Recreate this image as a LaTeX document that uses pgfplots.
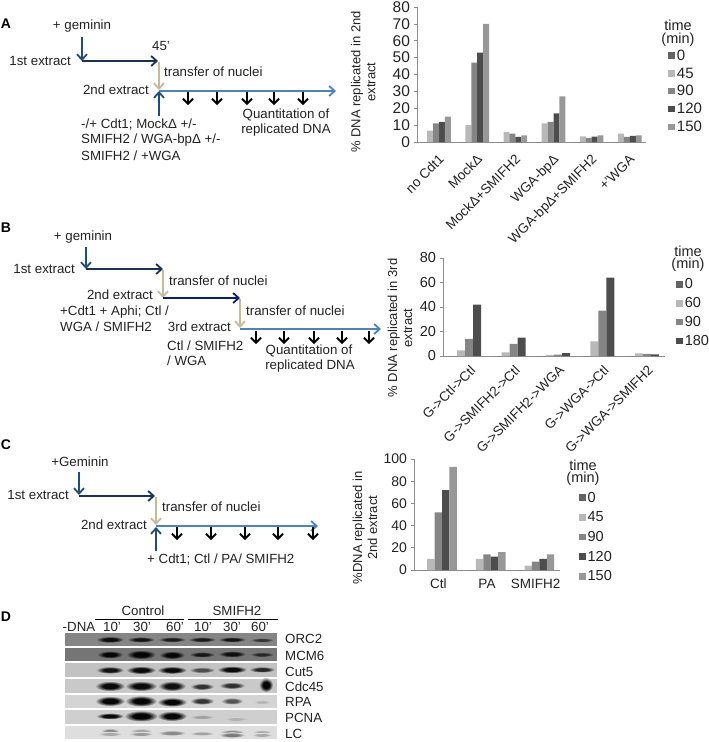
\documentclass[border=0pt]{standalone}
\usepackage{fontspec}
\setmainfont{Liberation Sans}
\usepackage{pgfplots}
\usepackage{pgfplotstable}
\pgfplotsset{compat=1.18}
\usetikzlibrary{arrows.meta}

\definecolor{txt}{HTML}{222222}
\definecolor{axgray}{HTML}{8C8C8C}
\definecolor{cA}{HTML}{636363}
\definecolor{cB}{HTML}{B8B8B8}
\definecolor{cC}{HTML}{858585}
\definecolor{cD}{HTML}{4D4D4D}
\definecolor{cE}{HTML}{989898}
\definecolor{blueD}{HTML}{1F4E7D}
\definecolor{darkN}{HTML}{1B3352}
\definecolor{navy}{HTML}{0B1A7A}
\definecolor{tan}{HTML}{C6BA98}
\definecolor{lblue}{HTML}{4F81BD}

% panel A
\pgfplotstableread{
idx t0 t45 t90 t120 t150
0 0 6.8 11 12 15
1 0 10 47 53 70
2 0 6 5 3 4
3 0 11 12 17 27
4 0 3.3 2.5 3.2 4
5 0 5 3 3.6 4
}\tabA
% panel B
\pgfplotstableread{
idx t0 t60 t90 t180
0 0 4.5 14 42
1 0 3 10 15
2 0 1 1.2 2.3
3 0 12 37 64
4 0 2.2 1.8 1.3
}\tabB
% panel C
\pgfplotstableread{
idx t0 t45 t90 t120 t150
0 0 10 52 72 93
1 0 10 14 12 16
2 0 4 7.5 10 14
}\tabC

\pgfplotsset{
  panel/.style={
    scale only axis, ybar=0pt, ymin=0, axis lines*=left,
    /pgf/number format/assume math mode=true,
    axis line style={axgray,line width=0.7pt},
    tick style={axgray,line width=0.7pt},
    major tick length=3.5pt, minor tick length=3.5pt,
    tick align=outside,
    xtick style={draw=none},
    minor tick style={draw=axgray,line width=0.7pt},
    every tick label/.append style={text=txt},
    ylabel style={text=txt,align=center,anchor=center,font=\fontsize{13}{15}\selectfont},
    legend cell align=left,
    legend image code/.code={\fill[##1] (0pt,-3pt) rectangle (6.5pt,3.5pt);},
  },
  bar0/.style={fill=cA,draw=none},
  bar1/.style={fill=cB,draw=none},
  bar2/.style={fill=cC,draw=none},
  bar3/.style={fill=cD,draw=none},
  bar4/.style={fill=cE,draw=none},
}

\pgfdeclareradialshading[bandin,bandout]{band}{\pgfpoint{0bp}{0bp}}{%
  color(0bp)=(bandin); color(12bp)=(bandin); color(25bp)=(bandout); color(50bp)=(bandout)}
% band: centre x, centre y, half width, half height, percent of black
\newcommand{\band}[5]{\colorlet{bandin}{black!#5!stripbg}\colorlet{bandout}{stripbg}%
  \shade[shading=band] (#1,#2) ellipse (#3 and #4);}
\newcommand{\strip}[3]{\definecolor{stripbg}{gray}{#3}\fill[stripbg] (65,#1) rectangle (277,#2);}

\begin{document}
\begin{tikzpicture}
\useasboundingbox (0pt,0pt) rectangle (709pt,-742pt);

% ---------- charts ----------
\begin{axis}[panel, at={(417pt,-142pt)}, anchor=south west, width=229pt, height=135pt,
  bar width=5.9pt, ymax=80, ytick={0,10,...,80},
  xmin=-0.5, xmax=5.5, xtick={0,...,5},
  xticklabels={no Cdt1,MockΔ,MockΔ+SMIFH2,WGA-bpΔ,WGA-bpΔ+SMIFH2,+'WGA},
  minor xtick={-0.5,0.5,...,5.5},
  xticklabel style={rotate=45,anchor=north east,font=\fontsize{13.5}{15}\selectfont,xshift=-1pt,yshift=-3.5pt},
  yticklabel style={font=\fontsize{15.5}{17}\selectfont},
  ylabel={\% DNA replicated in 2nd\\extract},
  ylabel style={at={(axis description cs:-0.235,0.444)}},
  legend style={at={(axis description cs:1.097,0.70)},anchor=north west,draw=none,fill=none,
    font=\fontsize{15}{17}\selectfont,row sep=2pt,inner sep=0pt,text=txt},
]
\addplot[bar0] table[x=idx,y=t0] {\tabA};
\addplot[bar1] table[x=idx,y=t45] {\tabA};
\addplot[bar2] table[x=idx,y=t90] {\tabA};
\addplot[bar3] table[x=idx,y=t120] {\tabA};
\addplot[bar4] table[x=idx,y=t150] {\tabA};
\legend{0,45,90,120,150}
\end{axis}

\begin{axis}[panel, at={(443pt,-356pt)}, anchor=south west, width=222pt, height=98pt,
  bar width=8pt, ymax=80, ytick={0,20,...,80},
  xmin=-0.5, xmax=4.5, xtick={0,...,4},
  xticklabels={G->Ctl->Ctl,G->SMIFH2->Ctl,G->SMIFH2->WGA,G->WGA->Ctl,G->WGA->SMIFH2},
  minor xtick={-0.5,0.5,...,4.5},
  xticklabel style={rotate=45,anchor=north east,font=\fontsize{13.5}{15}\selectfont,xshift=3pt,yshift=-3pt},
  yticklabel style={font=\fontsize{14.5}{17}\selectfont},
  ylabel={\% DNA replicated in 3rd\\extract},
  ylabel style={at={(axis description cs:-0.194,0.286)}},
  legend style={at={(axis description cs:1.05,0.81)},anchor=north west,draw=none,fill=none,
    font=\fontsize{14.5}{17}\selectfont,row sep=3.3pt,inner sep=0pt,text=txt},
]
\addplot[bar0] table[x=idx,y=t0] {\tabB};
\addplot[bar1] table[x=idx,y=t60] {\tabB};
\addplot[bar2] table[x=idx,y=t90] {\tabB};
\addplot[bar3] table[x=idx,y=t180] {\tabB};
\legend{0,60,90,180}
\end{axis}

\begin{axis}[panel, at={(414pt,-570pt)}, anchor=south west, width=146pt, height=111pt,
  bar width=7.4pt, ymax=100, ytick={0,20,...,100},
  xmin=-0.5, xmax=2.5, xtick={0,1,2},
  xticklabels={Ctl,PA,SMIFH2},
  minor xtick={-0.5,0.5,...,2.5},
  xticklabel style={font=\fontsize{13.5}{15}\selectfont,yshift=-2pt},
  yticklabel style={font=\fontsize{14}{17}\selectfont},
  ylabel={\%DNA replicated in\\2nd extract},
  ylabel style={at={(axis description cs:-0.336,0.38)}},
  legend style={at={(axis description cs:1.13,0.722)},anchor=north west,draw=none,fill=none,
    font=\fontsize{14.5}{17}\selectfont,row sep=4.1pt,inner sep=0pt,text=txt},
]
\addplot[bar0] table[x=idx,y=t0] {\tabC};
\addplot[bar1] table[x=idx,y=t45] {\tabC};
\addplot[bar2] table[x=idx,y=t90] {\tabC};
\addplot[bar3] table[x=idx,y=t120] {\tabC};
\addplot[bar4] table[x=idx,y=t150] {\tabC};
\legend{0,45,90,120,150}
\end{axis}

% ---------- schemes and blot, in picture pixels ----------
\begin{scope}[x=1pt,y=-1pt,
  every node/.style={text=txt,inner sep=0pt,font=\fontsize{13.3}{15}\selectfont},
  ar/.style={-{Straight Barb[length=5.5pt,width=10pt]},line width=1.8pt},
  bk/.style={-{Straight Barb[length=5pt,width=10pt]},line width=1.8pt,black},
  lab/.style={font=\fontsize{14}{16}\bfseries\selectfont,text=black},
  leg/.style={font=\fontsize{14.5}{17}\selectfont}]

% A
\node[lab] at (6,24) {A};
\node at (82,26) {+ geminin};
\node[anchor=east] at (71,61) {1st extract};
\node at (161,46) {45'};
\node[anchor=west] at (164,72) {transfer of nuclei};
\node[anchor=east] at (149,90) {2nd extract};
\draw[ar,blueD] (82,37) -- (82,61);
\draw[ar,darkN] (82,61) -- (158,61);
\draw[ar,tan] (159,62) -- (159,90);
\draw[ar,lblue] (159,91) -- (336,91);
\draw[ar,blueD] (159,116) -- (159,91);
\foreach \x in {188,217,247,274,303} \draw[bk] (\x,92) -- (\x,105);
\node at (286,115) {Quantitation of};
\node at (286,130) {replicated DNA};
\node[anchor=west] at (81,125) {-/+ Cdt1; MockΔ +/-};
\node[anchor=west] at (81,140) {SMIFH2 / WGA-bpΔ +/-};
\node[anchor=west] at (81,156) {SMIFH2 / +WGA};
\node[leg] at (678,25) {time};
\node[leg] at (678,40) {(min)};

% B
\node[lab] at (6,228) {B};
\node at (83,237) {+ geminin};
\node[anchor=east] at (75,269) {1st extract};
\node[anchor=west] at (169,281) {transfer of nuclei};
\node[anchor=east] at (153,295) {2nd extract};
\node[anchor=west] at (246,311) {transfer of nuclei};
\node[anchor=west] at (60,312) {+Cdt1 + Aphi; Ctl /};
\node[anchor=west] at (60,327) {WGA / SMIFH2};
\node[anchor=east] at (231,327) {3rd extract};
\node[anchor=west] at (167,346) {Ctl / SMIFH2};
\node[anchor=west] at (167,361) {/ WGA};
\draw[ar,blueD] (86,247) -- (86,269);
\draw[ar,darkN] (86,269) -- (163,269);
\draw[ar,tan] (163,270) -- (163,298);
\draw[ar,navy] (163,298) -- (240,298);
\draw[ar,tan] (240,299) -- (240,328);
\draw[ar,lblue] (240,329) -- (381,329);
\foreach \x in {256,284,314,342,369} \draw[bk] (\x,331) -- (\x,344);
\node at (309,351) {Quantitation of};
\node at (310,366) {replicated DNA};
\node[leg] at (688,251) {time};
\node[leg] at (688,265) {(min)};

% C
\node[lab] at (6,445) {C};
\node at (80,462) {+Geminin};
\node[anchor=east] at (69,495) {1st extract};
\node[anchor=west] at (162,507) {transfer of nuclei};
\node[anchor=east] at (147,525) {2nd extract};
\node[anchor=west] at (147,560) {+ Cdt1; Ctl / PA/ SMIFH2};
\draw[ar,blueD] (79,472) -- (79,495);
\draw[ar,darkN] (79,496) -- (155,496);
\draw[ar,tan] (156,497) -- (156,525);
\draw[ar,lblue] (156,526) -- (318,526);
\draw[ar,blueD] (156,551) -- (156,527);
\foreach \x in {177,211,245,278,313} \draw[bk] (\x,527) -- (\x,540);
\node[leg] at (583,465) {time};
\node[leg] at (583,479) {(min)};

% D
\node[lab] at (6,617) {D};
\node at (143,611) {Control};
\node at (237,611) {SMIFH2};
\draw[black,line width=0.8pt] (95,619) -- (184,619);
\draw[black,line width=0.8pt] (188,619) -- (278,619);
\node at (79,627) {-DNA};
\node at (112,627) {10'};
\node at (142,627) {30'};
\node at (175,627) {60'};
\node at (203,627) {10'};
\node at (232,627) {30'};
\node at (260,627) {60'};
\foreach \y/\t in {639/ORC2,656/MCM6,672/Cut5,687/Cdc45,702/RPA,718/PCNA,734/LC}
  \node[anchor=west] at (285,\y) {\t};

\strip{633}{646}{0.52}
\band{110}{639.5}{14}{3.2}{90}\band{141}{639.5}{14}{2.8}{85}\band{172}{639.5}{14}{2.6}{80}
\band{202}{639.5}{14}{2.6}{80}\band{232}{639.5}{14}{2.6}{85}\band{262}{640}{12}{2.2}{60}
\strip{648}{661}{0.46}
\band{110}{654.5}{13}{3.8}{95}\band{141}{654.5}{15}{4.6}{97}\band{172}{655}{13}{4}{95}
\band{202}{654.5}{13}{2.8}{80}\band{232}{654}{14}{3.2}{88}\band{262}{654.5}{12}{2.4}{65}
\strip{663}{677}{0.76}
\band{110}{670}{14}{3.6}{90}\band{141}{670}{15}{4}{95}\band{172}{670}{15}{3.8}{95}
\band{202}{670}{13}{3}{60}\band{232}{669.5}{15}{3.6}{95}\band{262}{669.5}{13}{3}{80}
\strip{679}{693}{0.79}
\band{110}{686}{15}{5}{95}\band{141}{686}{16}{5}{95}\band{172}{686}{14}{5}{92}
\band{202}{686.5}{12}{3.4}{75}\band{232}{685.5}{13}{3.4}{75}\band{266}{685}{7}{7}{97}
\strip{695}{708}{0.83}
\band{110}{701}{15}{5}{97}\band{141}{701}{16}{5.5}{97}\band{172}{702}{15}{4.6}{97}
\band{202}{701}{12}{3.6}{75}\band{232}{701}{11}{3.4}{60}\band{262}{702}{8}{2.2}{14}
\strip{710}{724}{0.81}
\band{110}{716}{14}{3.2}{95}\band{141}{716}{17}{5.5}{98}\band{172}{716}{15}{5}{97}
\band{202}{717}{12}{2.2}{22}\band{236}{719}{11}{2}{14}
\strip{726}{739}{0.87}
\band{110}{731}{9}{2.6}{38}\band{110}{734}{12}{2}{25}\band{141}{731}{11}{2.4}{25}\band{141}{734}{12}{2}{32}
\band{172}{733}{14}{2.6}{38}\band{202}{733.5}{12}{2}{28}\band{232}{732}{12}{2.4}{35}\band{232}{735}{13}{2.6}{45}
\band{262}{732}{9}{2}{22}\band{262}{735}{10}{2}{25}
\end{scope}
\end{tikzpicture}
\end{document}
